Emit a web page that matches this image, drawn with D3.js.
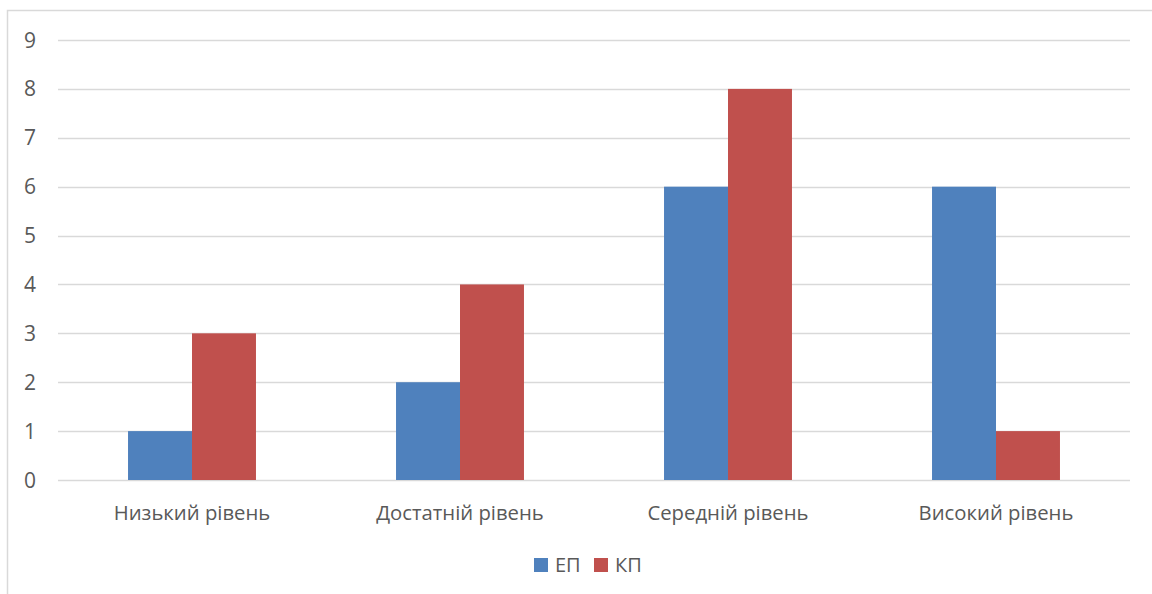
<!DOCTYPE html>
<html><head><meta charset="utf-8">
<script src="https://cdn.jsdelivr.net/npm/d3@7"></script>
<style>body{margin:0;background:#fff}svg{display:block}</style>
</head><body>
<svg id="c" width="1152" height="594"></svg>
<script>
const categories = ["Низький рівень", "Достатній рівень", "Середній рівень", "Високий рівень"];
const seriesNames = ["ЕП", "КП"];
const epValues = [1, 2, 6, 6];
const kpValues = [3, 4, 8, 1];
const yTicks = [0, 1, 2, 3, 4, 5, 6, 7, 8, 9];
const colors = ["#4F81BD", "#C0504D"];

(function () {
const svg = d3.select("#c");
const font = "'Open Sans', sans-serif";
const textColor = "#595959";

// frame
svg.append("rect").attr("x", 7.5).attr("y", 10.5).attr("width", 1200).attr("height", 700)
  .attr("fill", "none").attr("stroke", "#D9D9D9").attr("stroke-width", 1.5);

const pL = 58, pR = 1130, pT = 40, pB = 480;
const x = d3.scaleBand().domain(categories).range([pL, pR]).paddingInner(0.5226).paddingOuter(0.2613);
const xs = d3.scaleBand().domain(seriesNames).range([0, x.bandwidth()]);
const y = d3.scaleLinear().domain([0, 9]).range([pB, pT]);

// gridlines
svg.append("g").selectAll("line").data(yTicks).join("line")
  .attr("x1", pL).attr("x2", pR)
  .attr("y1", d => Math.round(y(d)) + 0.5).attr("y2", d => Math.round(y(d)) + 0.5)
  .attr("stroke", "#D9D9D9").attr("stroke-width", 1.5);

// y labels
svg.append("g").selectAll("text").data(yTicks).join("text")
  .attr("x", 30).attr("y", d => y(d)).attr("dy", "0.36em")
  .attr("text-anchor", "middle").attr("font-family", font).attr("font-size", 21)
  .attr("fill", textColor).text(d => d);

// bars
const data = categories.map((c, i) => ({ c, vals: [epValues[i], kpValues[i]] }));
const g = svg.append("g");
data.forEach(d => {
  d.vals.forEach((v, j) => {
    g.append("rect")
      .attr("x", x(d.c) + xs(seriesNames[j]))
      .attr("y", y(v))
      .attr("width", xs.bandwidth())
      .attr("height", y(0) - y(v))
      .attr("fill", colors[j]);
  });
});

// x labels
svg.append("g").selectAll("text").data(categories).join("text")
  .attr("x", d => x(d) + x.bandwidth() / 2).attr("y", 520)
  .attr("text-anchor", "middle").attr("font-family", font).attr("font-size", 20.3)
  .attr("fill", textColor).text(d => d);

// legend
const legendItems = [{ n: "ЕП", x: 534 }, { n: "КП", x: 594 }];
legendItems.forEach((it, i) => {
  svg.append("rect").attr("x", it.x).attr("y", 558).attr("width", 14).attr("height", 14).attr("fill", colors[i]);
  svg.append("text").attr("x", it.x + 21).attr("y", 565).attr("dy", "0.36em")
    .attr("font-family", font).attr("font-size", 20).attr("fill", textColor).text(it.n);
});
})();
</script>
</body></html>
